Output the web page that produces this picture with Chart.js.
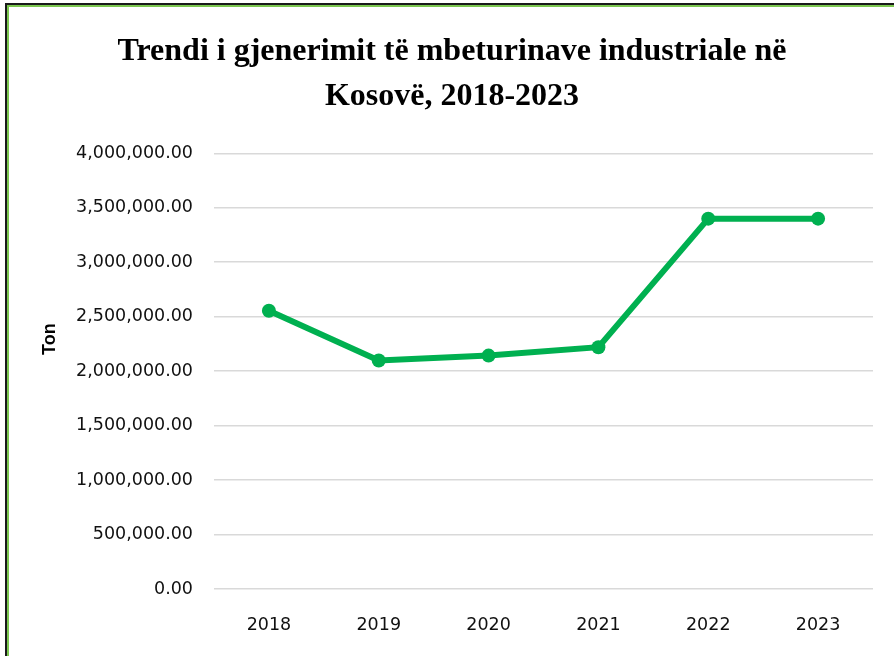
<!DOCTYPE html>
<html>
<head>
<meta charset="utf-8">
<script src="https://cdn.jsdelivr.net/npm/chart.js@4"></script>
<style>
  html, body { margin: 0; padding: 0; background: #fff; }
  #wrap { position: relative; width: 894px; height: 656px; overflow: hidden; }
  #frame { position: absolute; left: 5px; top: 3px; right: -10px; bottom: -10px;
           border-left: 2px solid #1a1a1a; border-top: 2px solid #1a1a1a; pointer-events: none; }
  #frame div { position: absolute; left: 0; top: 0; right: 0; bottom: 0;
               border-left: 2px solid #7cc74f; border-top: 2px solid #7cc74f; }
  canvas { position: absolute; left: 0; top: 0; }
</style>
</head>
<body>
<div id="wrap">
  <canvas id="grafico" width="894" height="656"></canvas>
  <div id="frame"><div></div></div>
</div>
<script>
// datos
var anios = ["2018", "2019", "2020", "2021", "2022", "2023"];
var toneladas = [2555000, 2098000, 2143000, 2220000, 3400000, 3400000];
var titulo = ["Trendi i gjenerimit të mbeturinave industriale në", "Kosovë, 2018-2023"];
var tituloEje = "Ton";

var verde = "#00b050";
var fuenteTicks = "'DejaVu Sans', sans-serif";

// etiqueta del eje Y, un poco mas arriba que el centro como en el original
var etiquetaTon = {
  id: "etiquetaTon",
  afterDraw: function (chart) {
    var c = chart.ctx;
    var area = chart.chartArea;
    c.save();
    c.translate(50, (area.top + area.bottom) / 2 - 32);
    c.rotate(-Math.PI / 2);
    c.font = "bold 18px 'Liberation Sans', Arial, sans-serif";
    c.fillStyle = "#000";
    c.textAlign = "center";
    c.textBaseline = "middle";
    c.fillText(tituloEje, 0, 0);
    c.restore();
  }
};

var fmt = new Intl.NumberFormat("en-US", { minimumFractionDigits: 2, maximumFractionDigits: 2 });

new Chart(document.getElementById("grafico"), {
  type: "line",
  data: {
    labels: anios,
    datasets: [{
      label: tituloEje,
      data: toneladas,
      borderColor: verde,
      backgroundColor: verde,
      borderWidth: 6,
      pointRadius: 7,
      pointHoverRadius: 7,
      pointBackgroundColor: verde,
      pointBorderWidth: 0,
      tension: 0
    }]
  },
  plugins: [etiquetaTon],
  options: {
    responsive: false,
    animation: false,
    layout: { padding: { left: 31, right: 21, top: 0, bottom: -6 } },
    plugins: {
      legend: { display: false },
      tooltip: { enabled: false },
      title: {
        display: true,
        text: titulo,
        color: "#000",
        font: { family: "'Liberation Serif', serif", size: 32, weight: "bold", lineHeight: 1.38 },
        padding: { top: 30, bottom: 35 }
      }
    },
    scales: {
      x: {
        offset: true,
        grid: { display: false, drawTicks: false },
        border: { display: false },
        ticks: { color: "#111", font: { family: fuenteTicks, size: 17.5 }, padding: 26 }
      },
      y: {
        min: 0,
        max: 4000000,
        afterFit: function (s) { s.width = 183; },
        grid: { color: "#d9d9d9", lineWidth: 1.5, drawTicks: false },
        border: { display: false },
        ticks: {
          stepSize: 500000,
          color: "#111",
          font: { family: fuenteTicks, size: 17.5 },
          padding: 21,
          callback: function (v) { return fmt.format(v); }
        }
      }
    }
  }
});
</script>
</body>
</html>
